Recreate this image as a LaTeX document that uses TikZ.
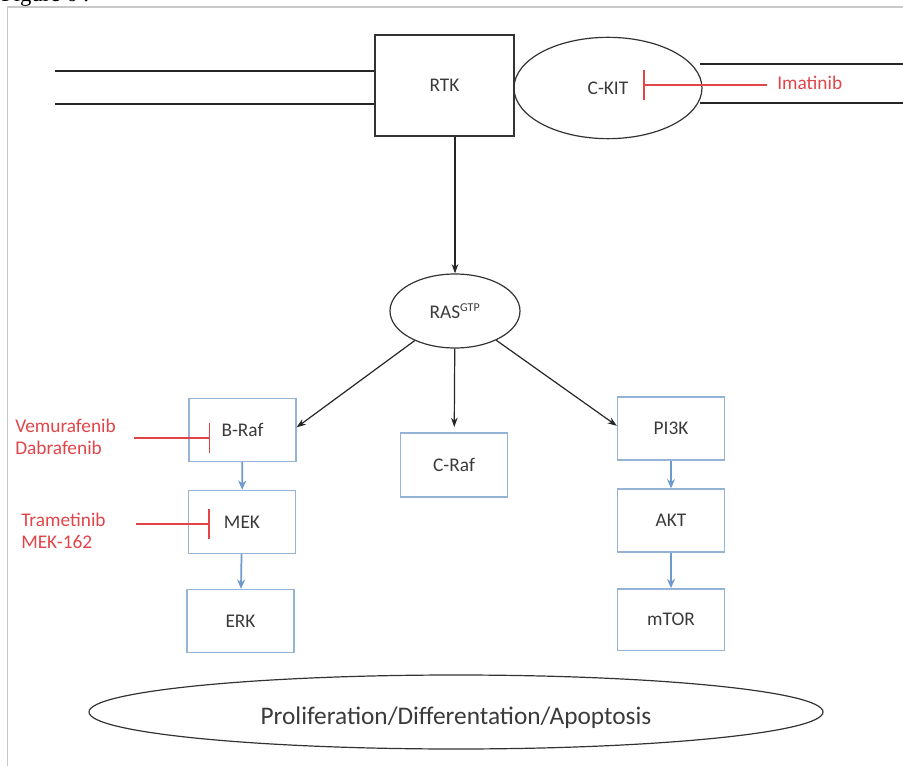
\documentclass[tikz,border=0pt]{standalone}
\usepackage{fontspec}
\setmainfont{Carlito}
\newfontfamily\figfont{Liberation Serif}
\usepackage{tikz}
\usetikzlibrary{shapes.geometric,arrows.meta}

\definecolor{labelgray}{RGB}{58,58,58}
\definecolor{boxblue}{RGB}{149,179,215}
\definecolor{arrowblue}{RGB}{109,154,203}
\definecolor{drugred}{RGB}{226,68,72}
\definecolor{framegray}{RGB}{200,200,200}

\tikzset{
  blackbox/.style={draw=black!80, line width=0.9pt, text=labelgray, inner sep=0pt},
  cell/.style={ellipse, draw=black!80, line width=0.9pt, text=labelgray, inner sep=0pt},
  bluebox/.style={draw=boxblue, line width=1pt, text=labelgray, inner sep=0pt,
    minimum width=80.25pt, minimum height=47.25pt},
  drug/.style={text=drugred, align=left, anchor=west, inner sep=0pt},
  membrane/.style={draw=black!85, line width=1.5pt},
  signal/.style={draw=black!85, line width=0.9pt, -{Stealth[length=7pt,width=5pt]}},
  cascade/.style={draw=arrowblue, line width=1.3pt, -{Stealth[length=7pt,width=6pt]}},
  inhib/.style={draw=drugred, line width=1.2pt, -{Bar[width=23pt,line width=1.2pt]}}
}

\begin{document}
\begin{tikzpicture}[x=0.75pt, y=-0.75pt, font=\fontsize{14.5}{16}\selectfont]
\useasboundingbox (0,0) rectangle (903,766);

% page frame and caption
\node[anchor=base west, font=\figfont\fontsize{17}{18}\selectfont, inner sep=0pt] (figlabel) at (1,1.5) {Figure 6 :};
\draw[framegray, line width=0.8pt] (7.5,770) -- (7.5,7) -- (910,7);

% receptors in the membrane
\node[blackbox, minimum width=104.25pt, minimum height=75.75pt] (rtk) at (444.5,85.5) {RTK};
\node[cell, minimum width=141pt, minimum height=76pt] (ckit) at (608,88) {C-KIT};

\coordinate (memLa) at (55,71);
\coordinate (memLb) at (55,104);
\coordinate (memRa) at (700,64);
\coordinate (memRb) at (700,103);
\coordinate (memRaend) at (910,64);
\coordinate (memRbend) at (910,103);
\draw[membrane] (memLa) -- (memLa -| rtk.west);
\draw[membrane] (memLb) -- (memLb -| rtk.west);
\draw[membrane] (memRa) -- (memRaend);
\draw[membrane] (memRb) -- (memRbend);

% RAS and the two branches
\node[cell, minimum width=97.5pt, minimum height=55.5pt] (ras) at (455,311) {RAS\textsuperscript{\fontsize{9}{10}\selectfont GTP}};

\node[bluebox] (braf) at (242.5,430) {B-Raf};
\node[bluebox] (mek) at (242,522) {MEK};
\node[bluebox] (erk) at (240.5,621) {ERK};
\node[bluebox, minimum height=48pt] (craf) at (454,465) {C-Raf};
\node[bluebox] (pik) at (671,428.5) {PI3K};
\node[bluebox] (akt) at (671,520.5) {AKT};
\node[bluebox, minimum height=46pt] (mtor) at (671,619.5) {mTOR};

\node[ellipse, draw=black!80, line width=0.9pt, text=labelgray, inner sep=0pt,
  minimum width=550.5pt, minimum height=55.5pt, text height=21pt, text depth=2pt,
  font=\fontsize{19}{21}\selectfont]
  (fate) at (456,712) {Proliferation/Differentation/Apoptosis};

\draw[signal] (ras |- rtk.south) -- (ras.north);
\draw[signal] (ras) -- ([yshift=2pt]braf.east);
\draw[signal, shorten >=4pt] (ras) -- (craf);
\draw[signal] (ras) -- ([yshift=2pt]pik.west);

\draw[cascade] (braf) -- (mek);
\draw[cascade] (mek) -- (erk);
\draw[cascade] (pik) -- (akt);
\draw[cascade] (akt) -- (mtor);

% drugs
\node[drug] (imat) at (777,83) {Imatinib};
\node[drug] (vemu) at (15,437) {Vemurafenib\\Dabrafenib};
\node[drug] (tram) at (21,531) {Trametinib\\MEK-162};

\coordinate (ckithit) at (643,85);
\coordinate (brafhit) at ([xshift=16.5pt,yshift=-6pt]braf.west);
\coordinate (mekhit) at ([xshift=16.5pt,yshift=-1.5pt]mek.west);

\draw[inhib, shorten <=7.5pt] (imat.west |- ckithit) -- (ckithit);
\draw[inhib, shorten <=13.5pt] (vemu.east |- brafhit) -- (brafhit);
\draw[inhib, shorten <=22.5pt] (tram.east |- mekhit) -- (mekhit);
\end{tikzpicture}
\end{document}
